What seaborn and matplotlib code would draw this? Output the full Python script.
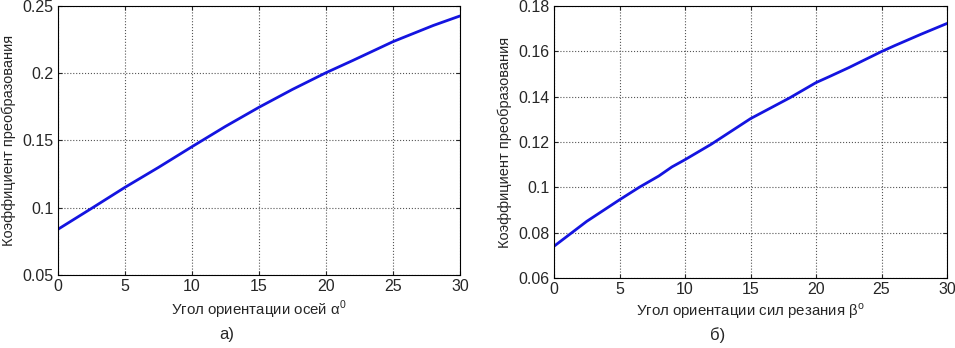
import numpy as np
import pandas as pd
import seaborn as sns
import matplotlib.pyplot as plt
from matplotlib.ticker import FuncFormatter

# left panel: coefficient vs axis orientation angle alpha
alpha_deg = [0, 2.5, 5, 7.5, 10, 12.5, 15, 17.5, 20, 22, 25, 28, 30]
coef_alpha = [0.084, 0.0995, 0.1152, 0.130, 0.1454, 0.1605, 0.1747, 0.188, 0.2004, 0.2095, 0.2235, 0.2355, 0.2426]

# right panel: coefficient vs cutting force orientation angle beta
beta_deg = [0, 2.5, 5, 6.5, 8, 9, 10, 12, 15, 18, 20, 21, 22.5, 25, 26, 28, 30]
coef_beta = [0.074, 0.085, 0.0945, 0.100, 0.105, 0.109, 0.1122, 0.119, 0.1303, 0.1395, 0.1462, 0.1488, 0.1528, 0.1599, 0.1625, 0.1675, 0.1723]

sns.set_style("ticks")
plt.rcParams['font.family'] = ['Liberation Sans', 'DejaVu Sans']
plt.rcParams['mathtext.fontset'] = 'custom'
plt.rcParams['mathtext.rm'] = 'Liberation Sans'

fig = plt.figure(figsize=(9.55, 3.48), dpi=100)
ax1 = fig.add_axes([58/955, 73/348, 402/955, 269/348])
ax2 = fig.add_axes([554/955, 70/348, 393/955, 272/348])

fmt = FuncFormatter(lambda v, p: "%g" % round(v, 4))

panels = [
    (ax1, alpha_deg, coef_alpha, (0.05, 0.25), np.arange(0.05, 0.2501, 0.05),
     r"Угол ориентации осей α$^{\mathrm{0}}$"),
    (ax2, beta_deg, coef_beta, (0.06, 0.18), np.arange(0.06, 0.1801, 0.02),
     r"Угол ориентации сил резания β$^{\mathrm{o}}$"),
]

for ax, xs, ys, ylim, yt, xlab in panels:
    df = pd.DataFrame({"x": xs, "y": ys})
    sns.lineplot(data=df, x="x", y="y", ax=ax, color="#1414e0", linewidth=2)
    ax.set_xlim(0, 30)
    ax.set_ylim(*ylim)
    ax.set_xticks(range(0, 31, 5))
    ax.set_yticks(yt)
    ax.yaxis.set_major_formatter(fmt)
    ax.grid(True, color="#555555", linestyle=":", linewidth=0.8)
    ax.tick_params(direction="in", length=3, labelsize=11.5, top=True, right=True, pad=3)
    for s in ax.spines.values():
        s.set_color("black")
        s.set_linewidth(0.8)
    ax.set_xlabel(xlab, fontsize=10.8, labelpad=3)
    ax.set_ylabel("Коэффициент преобразования", fontsize=10.5, labelpad=5)

fig.text(227/955, 1 - 335/348, "а)", ha="center", va="center", fontsize=12)
fig.text(718/955, 1 - 335/348, "б)", ha="center", va="center", fontsize=12)

fig.savefig("out.png", dpi=100)
